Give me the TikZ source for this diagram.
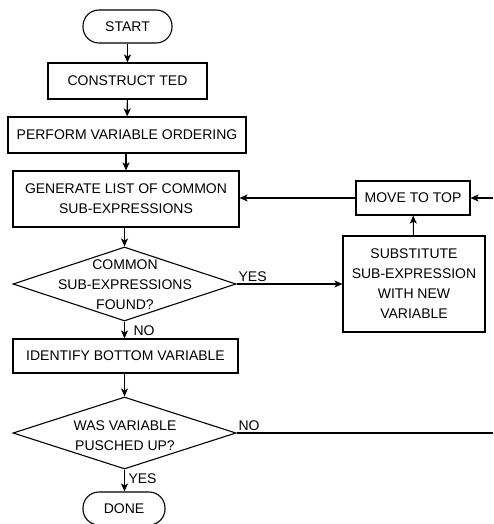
\documentclass[tikz,border=0pt]{standalone}
\usepackage{fontspec}
\setmainfont{Liberation Sans}
\usetikzlibrary{shapes.geometric,arrows.meta}
\begin{document}
\begin{tikzpicture}[x=1pt,y=-1pt,
  every node/.style={font=\fontsize{14}{20}\selectfont},
  base/.style={draw,line width=1.1pt,inner sep=0pt,align=center},
  procbox/.style={base,rectangle},
  termbox/.style={base,rectangle,rounded corners=16pt},
  decbox/.style={base,diamond},
  txt/.style={inner sep=0pt,align=center},
  lbl/.style={inner sep=1.5pt},
  conn/.style={line width=1.1pt,-{Stealth[length=8pt,width=7pt,inset=2pt]}},
  plain/.style={line width=1.1pt}]
\useasboundingbox (0,0) rectangle (493,524);
\node[termbox,minimum width=89pt,minimum height=33pt] (start) at (127.5,26.5) {START};
\node[procbox,minimum width=159pt,minimum height=36pt] (ted) at (127.5,81) {CONSTRUCT TED};
\node[procbox,minimum width=238pt,minimum height=36pt] (order) at (127,135) {PERFORM VARIABLE ORDERING};
\node[procbox,minimum width=226pt,minimum height=56pt] (gen) at (126,199) {GENERATE LIST OF COMMON\\SUB-EXPRESSIONS};
\node[decbox,minimum width=223pt,minimum height=74pt] (d1) at (124.5,284) {};
\node[txt] (d1t) at (125,285) {COMMON\\SUB-EXPRESSIONS\\FOUND?};
\node[procbox,minimum width=142pt,minimum height=96pt] (subst) at (414,284) {SUBSTITUTE\\SUB-EXPRESSION\\WITH NEW\\VARIABLE};
\node[procbox,minimum width=114pt,minimum height=34pt] (move) at (413,198) {MOVE TO TOP};
\node[procbox,minimum width=225pt,minimum height=34pt] (ident) at (125.5,356) {IDENTIFY BOTTOM VARIABLE};
\node[decbox,minimum width=223pt,minimum height=72pt] (d2) at (124.5,433) {};
\node[txt] (d2t) at (125,436) {WAS VARIABLE\\PUSCHED UP?};
\node[termbox,minimum width=82pt,minimum height=33pt] (done) at (124,508.5) {DONE};
\coordinate (rin) at (493,198);
\coordinate (rout) at (493,433);

\draw[conn] (start) -- (ted);
\draw[conn] (ted) -- (order);
\draw[conn] (order.south -| gen.north) -- (gen);
\draw[conn] (gen.south -| d1.north) -- (d1.north);
\draw[conn] (d1.east) -- node[lbl,above,pos=0,anchor=south west] {YES} (subst.west);
\draw[conn] (subst) -- (move);
\draw[conn] (move) -- (gen.east |- move.west);
\draw[conn] (rin) -- (move);
\draw[conn] (d1.south) -- node[lbl,pos=0.1,anchor=north west,xshift=7pt] {NO} (d1.south |- ident.north);
\draw[conn] (ident.south -| d2.north) -- (d2.north);
\draw[plain] (d2.east) -- node[lbl,pos=0,anchor=south west] {NO} (rout);
\draw[conn] (d2.south) -- node[lbl,pos=0.1,anchor=north west,xshift=2pt] {YES} (d2.south |- done.north);
\end{tikzpicture}
\end{document}
